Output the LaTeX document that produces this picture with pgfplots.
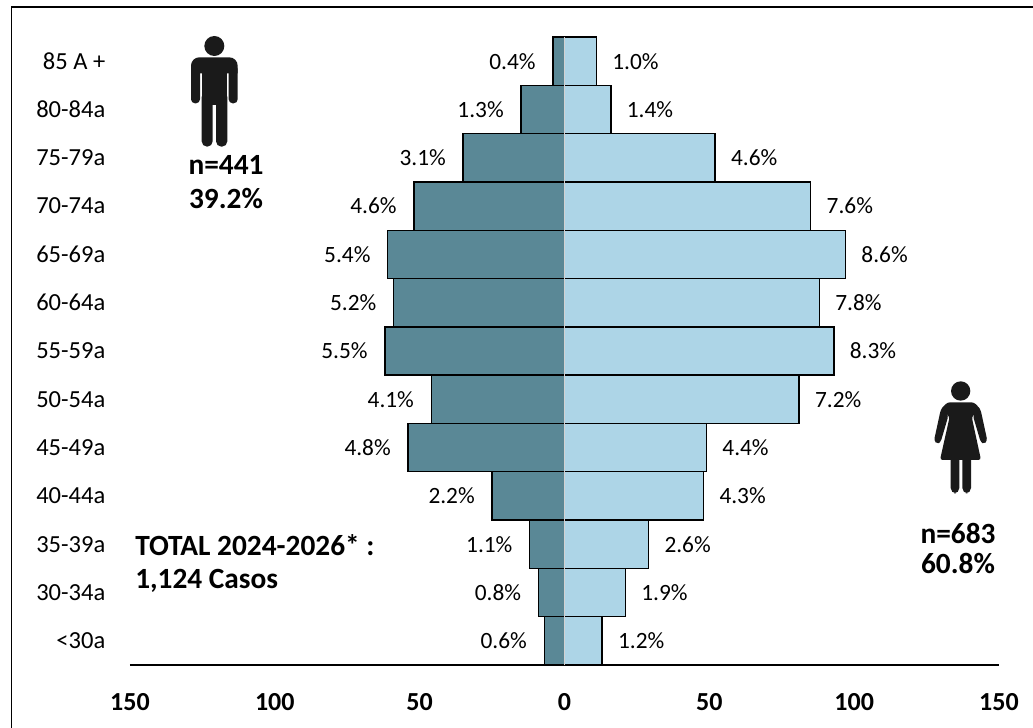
\documentclass[border=0pt]{standalone}
\usepackage{pgfplots}
\pgfplotsset{compat=1.18}
\usepackage{pgfplotstable}
\usepackage{fontspec}
\setmainfont{Carlito}
\definecolor{male}{HTML}{5A8896}
\definecolor{female}{HTML}{ADD5E7}
\pgfplotstableread{
y v lab
0 -7 0.6\%
1 -9 0.8\%
2 -12 1.1\%
3 -25 2.2\%
4 -54 4.8\%
5 -46 4.1\%
6 -62 5.5\%
7 -59 5.2\%
8 -61 5.4\%
9 -52 4.6\%
10 -35 3.1\%
11 -15 1.3\%
12 -4 0.4\%
}\maletable
\pgfplotstableread{
y v lab
0 13 1.2\%
1 21 1.9\%
2 29 2.6\%
3 48 4.3\%
4 49 4.4\%
5 81 7.2\%
6 93 8.3\%
7 88 7.8\%
8 97 8.6\%
9 85 7.6\%
10 52 4.6\%
11 16 1.4\%
12 11 1.0\%
}\femaletable
\begin{document}
\begin{tikzpicture}[x=0.75pt,y=0.75pt]
\useasboundingbox (0,0) rectangle (1033,728);
\draw[line width=1.3pt] (11.5,0) -- (11.5,720.8) -- (1033,720.8);
\begin{axis}[
  at={(97.5pt,47.25pt)}, anchor=south west,
  scale only axis, width=651.75pt, height=471pt,
  xmin=-150, xmax=150, ymin=-0.5, ymax=12.5,
  axis x line=bottom, axis y line=left,
  axis line style={-, line width=1.1pt},
  y axis line style={draw=none},
  major tick length=0pt,
  xtick={-150,-100,-50,0,50,100,150},
  xticklabels={150,100,50,0,50,100,150},
  ytick={0,...,12},
  yticklabels={<30a,30-34a,35-39a,40-44a,45-49a,50-54a,55-59a,60-64a,65-69a,70-74a,75-79a,80-84a,85 A +},
  tick label style={font=\fontsize{18.4}{20}\selectfont},
  xticklabel style={font=\fontsize{19.5}{22}\selectfont\bfseries, yshift=-17.5pt, /pgf/number format/assume math mode=true},
  yticklabel style={anchor=east, xshift=-15pt},
  xbar, bar width=36.2pt, bar shift=0pt,
  point meta=explicit symbolic,
  nodes near coords,
  nodes near coords style={font=\fontsize{17.5}{19}\selectfont, text=black, inner sep=0pt},
  clip=false,
]
\addplot[fill=male, draw=black, line width=1pt, nodes near coords style={anchor=east, xshift=-12.5pt}]
  table[x=v,y=y,meta=lab] {\maletable};
\addplot[fill=female, draw=black, line width=1pt, nodes near coords style={anchor=west, xshift=11.5pt}]
  table[x=v,y=y,meta=lab] {\femaletable};
\draw[draw=gray!35, line width=1.1pt] (axis cs:0,-0.5) -- (axis cs:0,12.5);
\end{axis}
\begin{scope}[x=0.75pt,y=-0.75pt,shift={(0pt,546pt)}]
\node[font=\fontsize{22}{24}\selectfont\bfseries] at (226,165) {n=441};
\node[font=\fontsize{22}{24}\selectfont\bfseries] at (226,199) {39.2\%};
\node[font=\fontsize{22}{24}\selectfont\bfseries] at (958,533) {n=683};
\node[font=\fontsize{22}{24}\selectfont\bfseries] at (958,564) {60.8\%};
\node[font=\fontsize{22}{24}\selectfont\bfseries, anchor=west, inner sep=0pt] at (135,545) {TOTAL 2024-2026* :};
\node[font=\fontsize{22}{24}\selectfont\bfseries, anchor=west, inner sep=0pt] at (135,581) {1,124 Casos};
\end{scope}
% man icon
\begin{scope}[x=0.25pt,y=-0.25pt,shift={(127.5pt,527.25pt)}]
\definecolor{ic}{HTML}{1A1A1A}
\fill[ic] (133,63) circle (30);
\fill[ic] (63,145) [rounded corners=25pt*0.25] -- (63,97) -- (203,97) [sharp corners] -- (203,145) -- cycle;
\fill[ic, rounded corners=3pt] (63,120) rectangle (90,235);
\fill[ic, rounded corners=3pt] (176,120) rectangle (203,235);
\fill[ic] (95,140) rectangle (172,240);
\fill[ic, rounded corners=4pt] (95,200) rectangle (128,365);
\fill[ic, rounded corners=4pt] (138,200) rectangle (172,365);
\end{scope}
% woman icon
\begin{scope}[x=0.25pt,y=-0.25pt,shift={(682.5pt,268.5pt)}]
\definecolor{ic}{HTML}{1A1A1A}
\fill[ic] (152,63) circle (29);
\fill[ic, rounded corners=2pt] (112,97)--(192,97)--(212,118)--(185,140)--(213,270)--(90,270)--(119,140)--(92,118)--cycle;
\fill[ic, rounded corners=2pt] (100,108)--(115,138)--(92,216)--(82,222)--(72,212)--(92,120)--cycle;
\fill[ic, rounded corners=2pt] (204,108)--(189,138)--(212,216)--(222,222)--(232,212)--(212,120)--cycle;
\fill[ic, rounded corners=4pt] (122,250) rectangle (148,370);
\fill[ic, rounded corners=4pt] (157,250) rectangle (183,370);
\end{scope}
\end{tikzpicture}
\end{document}
